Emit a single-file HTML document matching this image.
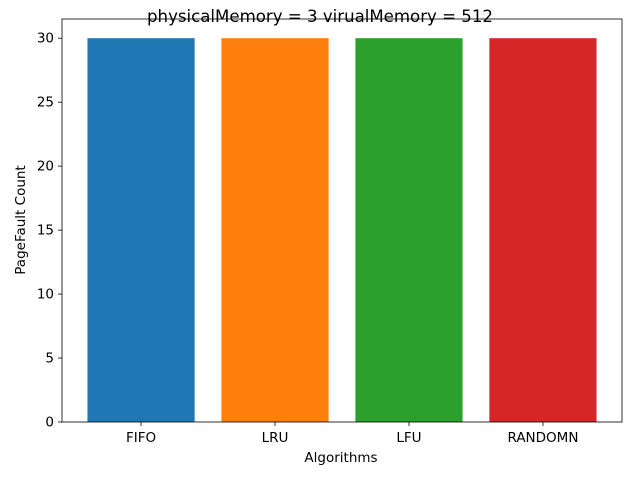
<!DOCTYPE html>
<html><head><meta charset="utf-8"><style>
body{margin:0;background:#fff;}
svg{display:block;font-family:"DejaVu Sans","Liberation Sans",sans-serif;}
</style></head><body>
<svg id="chart" width="640" height="480">
<rect width="640" height="480" fill="#fff"/>
<text x="320" y="22" text-anchor="middle" font-size="16.6">physicalMemory = 3 virualMemory = 512</text>
<g id="bars"></g>
<g id="axes"></g>
<text x="341" y="462" text-anchor="middle" font-size="13.5">Algorithms</text>
<text transform="translate(25,220) rotate(-90)" text-anchor="middle" font-size="13.5">PageFault Count</text>
</svg>
<script>
const categories = ["FIFO","LRU","LFU","RANDOMN"];
const values = [30,30,30,30];
const colors = ["#1f77b4","#ff7f0e","#2ca02c","#d62728"];
const yTicks = [0,5,10,15,20,25,30];

const L=62,R=622,T=19,B=422;
const yMax=Math.max(...values)*1.05;
const xMin=-0.59,xMax=categories.length-1+0.59;
const xs=v=>L+(v-xMin)/(xMax-xMin)*(R-L);
const ys=v=>B-v/yMax*(B-T);
const NS="http://www.w3.org/2000/svg";
const bars=document.getElementById('bars'),axes=document.getElementById('axes');
function mk(tag,attrs,parent){const e=document.createElementNS(NS,tag);for(const k in attrs)e.setAttribute(k,attrs[k]);parent.appendChild(e);return e;}
categories.forEach((c,i)=>{
  const r=mk('rect',{x:xs(i-0.4),y:ys(values[i]),width:xs(i+0.4)-xs(i-0.4),height:ys(0)-ys(values[i]),fill:colors[i%colors.length]},bars);
  
  
  mk('line',{x1:xs(i),x2:xs(i),y1:B,y2:B+4,stroke:'#000','stroke-width':0.8},axes);
  const t=mk('text',{x:xs(i),y:B+20,'text-anchor':'middle','font-size':13.5},axes);
  t.textContent=c;
  
  
});
yTicks.forEach(v=>{
  mk('line',{x1:L-4,x2:L,y1:ys(v),y2:ys(v),stroke:'#000','stroke-width':0.8},axes);
  const t=mk('text',{x:L-8,y:ys(v)+4.5,'text-anchor':'end','font-size':13.5},axes);
  t.textContent=v;
  
  
});
const f=mk('rect',{x:L,y:T,width:R-L,height:B-T,fill:'none',stroke:'#000','stroke-width':0.8},axes);


</script>
</body></html>
